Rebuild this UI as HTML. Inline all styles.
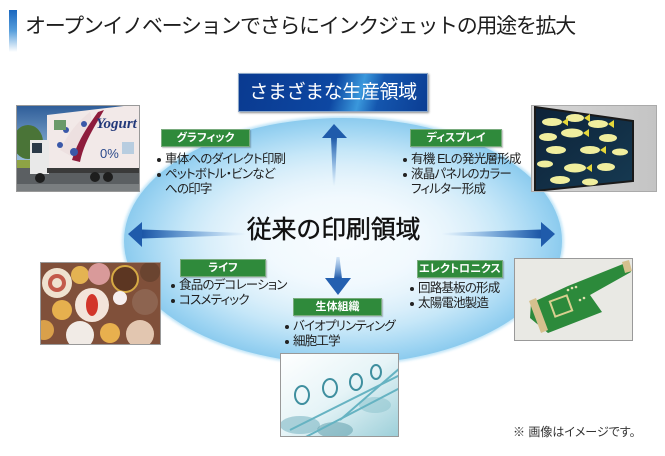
<!DOCTYPE html>
<html><head><meta charset="utf-8">
<style>
*{margin:0;padding:0;box-sizing:border-box}
html,body{width:665px;height:456px;overflow:hidden;background:#fff}
body{position:relative;font-family:"Liberation Sans","Noto Sans CJK JP",sans-serif;color:#222}
.abs{position:absolute}
svg{position:absolute;left:0;top:0}
.title{left:25px;top:14px;font-size:21px;line-height:26px;letter-spacing:-1.3px;color:#1e1e1e;white-space:nowrap}
.bar{left:9px;top:10px;width:8px;height:42px;background:linear-gradient(#1b68bf,#5aa0dc 50%,#ffffff)}
.bluebox{left:238px;top:73px;width:190px;height:39px;border:1px solid #8aa6c8;
 background:linear-gradient(105deg,#0a3a90 0%,#0d47a2 50%,#3a98dc 64%,#1456ae 74%,#0b3d93 100%);
 box-shadow:1px 1px 2px rgba(0,0,0,.45);color:#fff;font-size:19px;line-height:37px;text-align:center;letter-spacing:-0.4px;white-space:nowrap}
.center{left:240px;top:216px;width:187px;font-size:25px;line-height:28px;text-align:center;color:#111;white-space:nowrap;letter-spacing:-0.2px;-webkit-text-stroke:0.4px #111}
.lab{height:18px;background:#2f8a3b;border:1px solid #79ab7d;box-shadow:1px 1px 1px rgba(0,0,0,.25);color:#fff;font-weight:bold;font-size:11px;line-height:16px;text-align:center;font-feature-settings:"palt";white-space:nowrap}
.txt{font-size:12.5px;line-height:15px;color:#1e1e1e;font-feature-settings:"palt";letter-spacing:-0.8px;white-space:nowrap}
.txt div{display:flex;align-items:center;height:15px}
.txt b{display:inline-block;width:9px;height:15px;position:relative}
.txt b.d::after{content:"";position:absolute;left:1px;top:6px;width:4px;height:4px;border-radius:50%;background:#222}
.note{left:513px;top:424px;font-size:12px;line-height:16px;color:#333;white-space:nowrap;font-feature-settings:"palt"}
</style></head><body>
<svg width="665" height="456" viewBox="0 0 665 456" xmlns="http://www.w3.org/2000/svg">
<defs>
<radialGradient id="eg" cx="0.5" cy="0.5" r="0.5">
<stop offset="0" stop-color="#f8fcff"/>
<stop offset="0.35" stop-color="#f1f9fe"/>
<stop offset="0.5" stop-color="#e6f4fc"/>
<stop offset="0.62" stop-color="#d8eefa"/>
<stop offset="0.73" stop-color="#c6e7f8"/>
<stop offset="0.83" stop-color="#b1ddf5"/>
<stop offset="0.92" stop-color="#9dd4f2"/>
<stop offset="1" stop-color="#8ccbee"/>
</radialGradient>
<filter id="soft" x="-5%" y="-5%" width="110%" height="110%"><feGaussianBlur stdDeviation="1.2"/></filter>
<linearGradient id="gu" x1="0" y1="1" x2="0" y2="0"><stop offset="0" stop-color="#4f8fd6" stop-opacity="0"/><stop offset="1" stop-color="#1c56a6"/></linearGradient>
<linearGradient id="gl" x1="1" y1="0" x2="0" y2="0"><stop offset="0" stop-color="#4f8fd6" stop-opacity="0"/><stop offset="1" stop-color="#1c56a6"/></linearGradient>
<linearGradient id="gr" x1="0" y1="0" x2="1" y2="0"><stop offset="0" stop-color="#4f8fd6" stop-opacity="0"/><stop offset="1" stop-color="#1c56a6"/></linearGradient>
<linearGradient id="gd" x1="0" y1="0" x2="0" y2="1"><stop offset="0" stop-color="#4f8fd6" stop-opacity="0.2"/><stop offset="1" stop-color="#1c56a6"/></linearGradient>
<linearGradient id="sky" x1="0" y1="0" x2="0" y2="1"><stop offset="0" stop-color="#2d5c98"/><stop offset="0.6" stop-color="#93b9da"/><stop offset="1" stop-color="#c9dbe8"/></linearGradient>
<linearGradient id="scr" x1="0" y1="0" x2="1" y2="1"><stop offset="0" stop-color="#0d2238"/><stop offset="1" stop-color="#163a52"/></linearGradient>
<linearGradient id="tube" x1="0" y1="0" x2="1" y2="1"><stop offset="0" stop-color="#ffffff"/><stop offset="0.5" stop-color="#e6f4f7"/><stop offset="1" stop-color="#9ccfd9"/></linearGradient>
<linearGradient id="gray" x1="0" y1="0" x2="1" y2="0"><stop offset="0" stop-color="#d6d6d6"/><stop offset="1" stop-color="#c4c4c4"/></linearGradient>
<clipPath id="c1"><rect x="16" y="105" width="124" height="87"/></clipPath>
<clipPath id="c2"><rect x="531" y="105" width="126" height="87"/></clipPath>
<clipPath id="c3"><rect x="40" y="262" width="121" height="83"/></clipPath>
<clipPath id="c4"><rect x="280" y="353" width="119" height="84"/></clipPath>
<clipPath id="c5"><rect x="514" y="258" width="119" height="83"/></clipPath>
</defs>

<ellipse cx="343" cy="241" rx="221" ry="125" fill="#a9dbf5" filter="url(#soft)" opacity="0.7"/>
<ellipse cx="343" cy="241" rx="219" ry="123" fill="url(#eg)"/>

<polygon points="331,137 337,137 335,186 333,186" fill="url(#gu)"/>
<polygon points="322,138 334,124 347,138" fill="#1f5bab"/>
<polygon points="142,229.5 142,238.5 246,235 246,233" fill="url(#gl)"/>
<polygon points="142,222 128,234 142,247" fill="#1f5bab"/>
<polygon points="541,229.5 541,238.5 442,235 442,233" fill="url(#gr)"/>
<polygon points="541,222 555,234 541,247" fill="#1f5bab"/>
<polygon points="336.5,257 339.5,257 342,279 334,279" fill="url(#gd)"/>
<polygon points="325,278 351,278 338,295" fill="#2460b0"/>

<g clip-path="url(#c1)">
<rect x="16" y="105" width="124" height="87" fill="url(#sky)"/>
<ellipse cx="28" cy="142" rx="15" ry="17" fill="#4a7437"/>
<ellipse cx="40" cy="150" rx="10" ry="10" fill="#5f8a3e"/>
<rect x="16" y="160" width="124" height="10" fill="#8ea345"/>
<rect x="16" y="168" width="124" height="24" fill="#5b5f62"/>
<rect x="16" y="184" width="124" height="8" fill="#7a7e80"/>
<polygon points="47,115 141,104 141,170 47,171" fill="#f2e9e8"/>
<path d="M60,150 C70,130 80,120 90,112 C95,125 85,135 78,160 Z" fill="#ede0e0"/>
<path d="M72,160 C78,140 88,126 98,112 L104,110 C94,128 84,142 80,162 Z" fill="#8e1c3c"/>
<circle cx="66" cy="130" r="3" fill="#3a58a8"/><circle cx="74" cy="152" r="4" fill="#3a58a8"/><circle cx="60" cy="145" r="3" fill="#3a58a8"/><circle cx="84" cy="124" r="3" fill="#3a58a8"/>
<rect x="54" y="120" width="12" height="10" fill="#6a9a6a"/>
<text x="96" y="128" font-family="Liberation Serif,serif" font-style="italic" font-weight="bold" font-size="15" fill="#23397a">Yogurt</text>
<text x="100" y="158" font-family="Liberation Sans,sans-serif" font-size="13" fill="#2b4a8c">0%</text>
<rect x="122" y="142" width="12" height="12" fill="#b8cde0"/>
<rect x="30" y="140" width="19" height="34" fill="#e9e9e9"/>
<rect x="32" y="143" width="10" height="10" fill="#2a3a48"/>
<rect x="47" y="168" width="94" height="5" fill="#3a3a3a"/>
<circle cx="40" cy="178" r="5" fill="#1e1e1e"/><circle cx="95" cy="177" r="5" fill="#1e1e1e"/><circle cx="108" cy="177" r="5" fill="#1e1e1e"/>
</g>
<rect x="16.5" y="105.5" width="123" height="86" fill="none" stroke="#999" stroke-width="1"/>

<g clip-path="url(#c2)">
<rect x="531" y="105" width="126" height="87" fill="url(#gray)"/>
<polygon points="535,107 633,121 633,181 535,191" fill="url(#scr)" stroke="#1a1a1a" stroke-width="2"/>
<g fill="#f0ee9e">
<ellipse cx="552" cy="122" rx="10" ry="4"/><ellipse cx="575" cy="118" rx="9" ry="4"/><ellipse cx="598" cy="124" rx="10" ry="4"/>
<ellipse cx="548" cy="137" rx="9" ry="4"/><ellipse cx="572" cy="133" rx="11" ry="4.5"/><ellipse cx="608" cy="138" rx="9" ry="4"/>
<ellipse cx="556" cy="150" rx="10" ry="4"/><ellipse cx="590" cy="150" rx="10" ry="4"/><ellipse cx="620" cy="152" rx="8" ry="3.5"/>
<ellipse cx="545" cy="164" rx="8" ry="3.5"/><ellipse cx="575" cy="168" rx="11" ry="4.5"/><ellipse cx="606" cy="167" rx="9" ry="4"/>
<ellipse cx="560" cy="180" rx="10" ry="4"/><ellipse cx="590" cy="182" rx="8" ry="3.5"/>
</g>
<g fill="#e6d83a">
<polygon points="562,122 568,118 568,126"/><polygon points="584,118 590,114 590,122"/><polygon points="608,124 614,120 614,128"/>
<polygon points="583,133 589,129 589,137"/><polygon points="600,150 606,146 606,154"/><polygon points="586,168 592,164 592,172"/>
</g>
</g>
<rect x="531.5" y="105.5" width="125" height="86" fill="none" stroke="#aaa" stroke-width="1"/>

<g clip-path="url(#c3)">
<rect x="40" y="262" width="121" height="83" fill="#80503a"/>
<circle cx="57" cy="283" r="15" fill="#efe2cf"/><circle cx="57" cy="283" r="9" fill="#c35a4a"/><circle cx="57" cy="283" r="5" fill="#efe2cf"/>
<circle cx="80" cy="275" r="9" fill="#e4b352"/>
<circle cx="99" cy="274" r="11" fill="#d99a9a"/>
<circle cx="125" cy="279" r="13" fill="#5c3622" stroke="#d6aa44" stroke-width="2"/>
<circle cx="150" cy="272" r="10" fill="#6a4430"/>
<circle cx="62" cy="310" r="10" fill="#e6b04e"/>
<circle cx="92" cy="305" r="17" fill="#f3e4da"/><ellipse cx="92" cy="305" rx="6" ry="11" fill="#d2352a"/>
<circle cx="120" cy="298" r="7" fill="#f6eeee"/>
<circle cx="145" cy="302" r="13" fill="#8d6450"/>
<circle cx="80" cy="335" r="14" fill="#f1ebe6"/>
<circle cx="110" cy="333" r="10" fill="#e8b04e"/>
<circle cx="140" cy="334" r="14" fill="#e2c6b0"/>
<circle cx="44" cy="330" r="10" fill="#d9a04a"/>
</g>
<rect x="40.5" y="262.5" width="120" height="82" fill="none" stroke="#999" stroke-width="1"/>

<g clip-path="url(#c4)">
<rect x="280" y="353" width="119" height="84" fill="url(#tube)"/>
<ellipse cx="300" cy="425" rx="20" ry="9" fill="#7fb8c4" opacity="0.6"/>
<ellipse cx="335" cy="430" rx="18" ry="8" fill="#5a9aa8" opacity="0.5"/>
<ellipse cx="375" cy="405" rx="16" ry="8" fill="#8ac2cc" opacity="0.5"/>
<g fill="none" stroke="#66b3c2" stroke-width="2">
<line x1="290" y1="430" x2="400" y2="375"/><line x1="300" y1="440" x2="400" y2="388"/>
<line x1="340" y1="420" x2="400" y2="368"/>
</g>
<g fill="none" stroke="#3f8f9f" stroke-width="2">
<ellipse cx="302" cy="395" rx="7" ry="9"/><ellipse cx="330" cy="388" rx="7" ry="9"/><ellipse cx="356" cy="382" rx="6" ry="8"/><ellipse cx="376" cy="372" rx="5" ry="7"/>
</g>
</g>
<rect x="280.5" y="353.5" width="118" height="83" fill="none" stroke="#999" stroke-width="1"/>

<g clip-path="url(#c5)">
<rect x="514" y="258" width="119" height="83" fill="#e9e9e4"/>
<polygon points="531,303 568,286 628,262 631,272 590,295 602,312 548,333 530,318" fill="#2c8a3b"/>
<polygon points="529,301 536,298 548,330 541,333" fill="#d6c08e"/>
<polygon points="622,262 629,260 632,271 625,273" fill="#d6c08e"/>
<rect x="552" y="298" width="18" height="16" fill="none" stroke="#d8d090" stroke-width="2" transform="rotate(-20 561 306)"/>
<g fill="#e0e0b0"><circle cx="568" cy="290" r="1.3"/><circle cx="572" cy="288" r="1.3"/><circle cx="576" cy="287" r="1.3"/><circle cx="580" cy="300" r="1.3"/><circle cx="584" cy="298" r="1.3"/></g>
</g>
<rect x="514.5" y="258.5" width="118" height="82" fill="none" stroke="#999" stroke-width="1"/>
</svg>

<div class="abs bar"></div>
<div class="abs title">オープンイノベーションでさらにインクジェットの用途を拡大</div>
<div class="abs bluebox">さまざまな生産領域</div>
<div class="abs center">従来の印刷領域</div>

<div class="abs lab" style="left:161px;top:129px;width:89px">グラフィック</div>
<div class="abs lab" style="left:410px;top:129px;width:92px">ディスプレイ</div>
<div class="abs lab" style="left:180px;top:259px;width:86px">ライフ</div>
<div class="abs lab" style="left:293px;top:298px;width:89px">生体組織</div>
<div class="abs lab" style="left:417px;top:260px;width:86px">エレクトロニクス</div>

<div class="abs txt" style="left:156px;top:152px">
<div><b class="d"></b>車体へのダイレクト印刷</div>
<div><b class="d"></b>ペットボトル・ビンなど</div>
<div><b></b>への印字</div>
</div>
<div class="abs txt" style="left:402px;top:152px">
<div><b class="d"></b>有機 ELの発光層形成</div>
<div><b class="d"></b>液晶パネルのカラー</div>
<div><b></b>フィルター形成</div>
</div>
<div class="abs txt" style="left:170px;top:278px">
<div><b class="d"></b>食品のデコレーション</div>
<div><b class="d"></b>コスメティック</div>
</div>
<div class="abs txt" style="left:284px;top:319px">
<div><b class="d"></b>バイオプリンティング</div>
<div><b class="d"></b>細胞工学</div>
</div>
<div class="abs txt" style="left:409px;top:281px">
<div><b class="d"></b>回路基板の形成</div>
<div><b class="d"></b>太陽電池製造</div>
</div>

<div class="abs note">※ 画像はイメージです。</div>
</body></html>
